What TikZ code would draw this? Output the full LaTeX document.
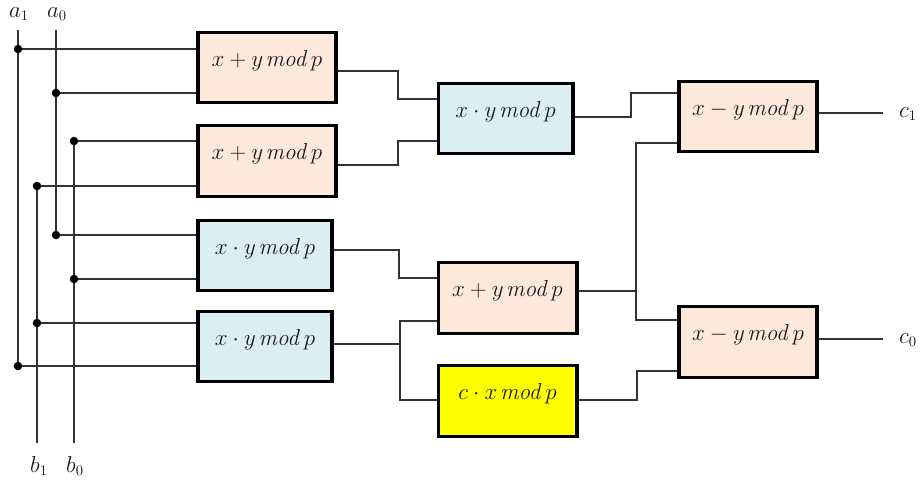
\documentclass[tikz,border=0pt]{standalone}
\usetikzlibrary{calc}
\definecolor{peach}{HTML}{FCE9DB}
\definecolor{lblue}{HTML}{DAEEF3}
\definecolor{yel}{HTML}{FFFF00}
\definecolor{wire}{HTML}{333333}
\definecolor{txt}{HTML}{1A1A1A}
\newcommand{\md}{\mskip2mu\mathit{mod}\mskip2mu}
\begin{document}
\begin{tikzpicture}[x=0.75pt,y=-0.75pt,
  blk/.style={draw=black,line width=2.3pt,inner sep=0pt,minimum height=53pt},
  wd/.style={minimum width=#1},
  lbl/.style={inner sep=0pt,text=txt,font=\fontsize{16.5}{19}\selectfont},
  io/.style={inner sep=0pt,text=txt,font=\fontsize{16}{19}\selectfont},
  w/.style={draw=wire,line width=0.8pt},
  dot/.style={fill=black}]
\useasboundingbox (0,0) rectangle (923,483);
% boxes
\node[blk,fill=peach,wd=103.5pt] (B1) at (267,67.5) {};
\node[blk,fill=peach,wd=103.5pt] (B2) at (267,161) {};
\node[blk,fill=lblue,wd=100.5pt] (B3) at (265,255.5) {};
\node[blk,fill=lblue,wd=100.5pt] (B4) at (265,346.5) {};
\node[blk,fill=lblue,wd=101.2pt] (B5) at (505.5,118.5) {};
\node[blk,fill=peach,wd=104.2pt] (B6) at (507.5,298) {};
\node[blk,fill=yel,wd=104.2pt] (B7) at (507.5,401) {};
\node[blk,fill=peach,wd=103.5pt] (B8) at (748,116.5) {};
\node[blk,fill=peach,wd=103.5pt] (B9) at (748,342) {};
% box texts
\node[lbl] (T1) at ($(B1)+(0,-7)$) {$x+y\md p$};
\node[lbl] (T2) at ($(B2)+(0,-7)$) {$x+y\md p$};
\node[lbl] (T3) at ($(B3)+(0,-7)$) {$x\cdot y\md p$};
\node[lbl] (T4) at ($(B4)+(0,-7)$) {$x\cdot y\md p$};
\node[lbl] (T5) at ($(B5)+(0,-7)$) {$x\cdot y\md p$};
\node[lbl] (T6) at ($(B6)+(0,-7)$) {$x+y\md p$};
\node[lbl] (T7) at ($(B7)+(0,-7)$) {$c\cdot x\md p$};
\node[lbl] (T8) at ($(B8)+(0,-7)$) {$x-y\md p$};
\node[lbl] (T9) at ($(B9)+(0,-7)$) {$x-y\md p$};
% input labels
\node[io] (La1) at (19,14) {$a_1$};
\node[io] (La0) at (57,14) {$a_0$};
\node[io] (Lb1) at (39,466) {$b_1$};
\node[io] (Lb0) at (75,466) {$b_0$};
\node[io] (Lc1) at (908,114) {$c_1$};
\node[io] (Lc0) at (908,340) {$c_0$};
% bus ends
\coordinate (a1t) at (18,30);
\coordinate (a0t) at (56,30);
\coordinate (b1b) at (37,443);
\coordinate (b0b) at (74,443);
% tap points
\coordinate (d1) at (18,49);
\coordinate (d2) at (56,93);
\coordinate (d3) at (74,141);
\coordinate (d4) at (37,186);
\coordinate (d5) at (56,235);
\coordinate (d6) at (74,279);
\coordinate (d7) at (37,323);
\coordinate (d8) at (18,366);
% buses
\draw[w] (a1t) -- (d8);
\draw[w] (a0t) -- (d5);
\draw[w] (b1b) -- (d4);
\draw[w] (b0b) -- (d3);
% taps
\foreach \d/\b in {d1/B1,d2/B1,d3/B2,d4/B2,d5/B3,d6/B3,d7/B4,d8/B4}{
  \draw[w] (\d) -- (\d -| \b.west);
  \fill[dot] (\d) circle (3.2pt);
}
% junction coordinates
\coordinate (o1) at (336,71);
\coordinate (o2) at (336,165);
\coordinate (o3) at (332,250);
\coordinate (o4) at (332,344);
\coordinate (o5) at (573,117);
\coordinate (o6) at (577,291);
\coordinate (o7) at (577,400);
\coordinate (o8) at (817,113);
\coordinate (o9) at (817,339);
\coordinate (i5a) at (438,99);
\coordinate (i5b) at (438,141);
\coordinate (i6a) at (438,278);
\coordinate (i6b) at (438,321);
\coordinate (i7) at (438,400);
\coordinate (i8a) at (679,93);
\coordinate (i8b) at (679,143);
\coordinate (i9a) at (679,320);
\coordinate (i9b) at (679,371);
\coordinate (e1) at (883,113);
\coordinate (e0) at (883,339);
% stage 1 -> 2
\draw[w] (o1 -| B1.east) -- (398,71) |- (i5a -| B5.west);
\draw[w] (o2 -| B2.east) -- (398,165) |- (i5b -| B5.west);
\draw[w] (o3 -| B3.east) -- (399,250) |- (i6a -| B6.west);
\draw[w] (o4 -| B4.east) -- (400,344);
\draw[w] (i6b -| B6.west) -| (400,400) -- (i7 -| B7.west);
% stage 2 -> 3
\draw[w] (o5 -| B5.east) -- (631,117) |- (i8a -| B8.west);
\draw[w] (o6 -| B6.east) -- (636,291);
\draw[w] (i8b -| B8.west) -| (636,320) -- (i9a -| B9.west);
\draw[w] (o7 -| B7.east) -- (637,400) |- (i9b -| B9.west);
% outputs
\draw[w] (o8 -| B8.east) -- (e1);
\draw[w] (o9 -| B9.east) -- (e0);
\end{tikzpicture}
\end{document}
